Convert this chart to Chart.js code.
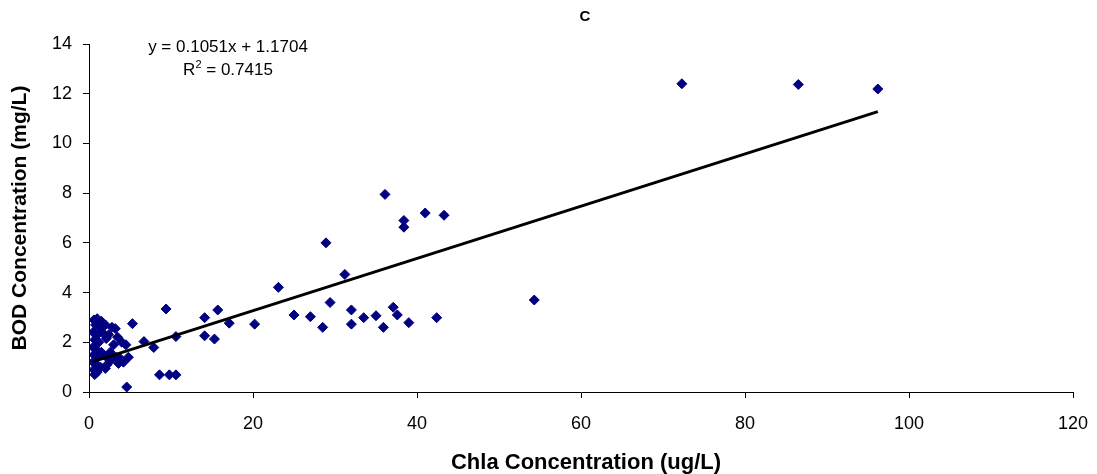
<!DOCTYPE html>
<html>
<head>
<meta charset="utf-8">
<script src="https://cdn.jsdelivr.net/npm/chart.js@4"></script>
<style>
    html, body { margin: 0; padding: 0; background: #fff; }
    #wrap { width: 1097px; height: 474px; }
</style>
</head>
<body>
<div id="wrap"><canvas id="chart" width="1097" height="474"></canvas></div>
<script>
// ============================================================
// Chla vs BOD scatter (panel C)
// ============================================================
const chlaValues = [
    0.6, 1.0, 1.5, 0.8, 1.3, 2.0, 2.8, 3.2, 0.5, 1.0, 1.6, 2.4, 2.1, 3.5, 4.0, 0.7, 1.2,
    0.5, 0.9, 1.5, 2.6, 3.0, 4.5, 0.6, 1.1, 2.0, 3.3, 2.7, 3.8, 4.2, 4.8, 0.5, 0.9, 1.4,
    2.2, 3.6, 0.6, 1.0, 0.7, 2.0, 4.6, 5.3,
    6.7, 7.9, 9.4, 10.6, 8.6, 9.8, 10.6,
    14.1, 15.7, 17.1, 14.1, 15.3, 20.2, 23.1, 25.0, 27.0, 28.5, 28.9, 29.4, 31.2, 32.0,
    32.0, 33.5, 35.0, 35.9, 37.1, 37.6, 39.0, 42.4, 38.4, 38.4, 36.1, 41.0, 43.3, 54.3,
    72.3, 86.5, 96.2
];
const bodValues = [
    2.9, 2.95, 2.85, 2.7, 2.6, 2.7, 2.6, 2.55, 2.4, 2.3, 2.4, 2.3, 2.15, 2.2, 2.0, 2.1, 2.0,
    1.8, 1.7, 1.6, 1.6, 1.9, 1.9, 1.5, 1.4, 1.45, 1.4, 1.3, 1.35, 1.2, 1.4, 1.2, 1.1, 1.0,
    1.1, 1.15, 0.9, 0.8, 0.7, 0.95, 0.2, 2.75,
    2.03, 1.79, 3.34, 2.23, 0.69, 0.69, 0.69,
    2.99, 3.3, 2.77, 2.26, 2.13, 2.73, 4.21, 3.1, 3.03, 2.6, 6.0, 3.6, 4.73, 3.3,
    2.73, 2.99, 3.07, 2.6, 3.41, 3.1, 2.79, 2.99, 6.63, 6.9, 7.95, 7.2, 7.11, 3.7,
    12.4, 12.37, 12.19
];

// Linear trendline as printed on the chart
const trendSlope = 0.1051;
const trendIntercept = 1.1704;
const trendText = ['y = 0.1051x + 1.1704', 'R', '2', ' = 0.7415'];

const xTicks = [0, 20, 40, 60, 80, 100, 120];
const yTicks = [0, 2, 4, 6, 8, 10, 12, 14];

const chartTitle = 'C';
const xTitle = 'Chla Concentration (ug/L)';
const yTitle = 'BOD Concentration (mg/L)';

const points = chlaValues.map((x, i) => ({ x, y: bodValues[i] }));
const xMin = Math.min(...chlaValues);
const xMax = Math.max(...chlaValues);
const trendPoints = [xMin, xMax].map(x => ({ x, y: trendSlope * x + trendIntercept }));

const FONT = "'Liberation Sans', Arial, sans-serif";

// Title, axis titles and equation labels
const labelPlugin = {
    id: 'labels',
    afterDraw(chart) {
        const { ctx, chartArea } = chart;
        const midY = (chartArea.top + chartArea.bottom) / 2;
        ctx.save();
        ctx.fillStyle = '#000';
        ctx.textBaseline = 'middle';
        ctx.textAlign = 'center';
        ctx.font = `bold 15px ${FONT}`;
        ctx.fillText(chartTitle, 585, 17);

        ctx.font = `bold 22px ${FONT}`;
        ctx.fillText(xTitle, 586, 463);

        ctx.save();
        ctx.translate(20, midY);
        ctx.rotate(-Math.PI / 2);
        ctx.font = `bold 21px ${FONT}`;
        ctx.fillText(yTitle, 0, 0);
        ctx.restore();

        ctx.font = `17px ${FONT}`;
        ctx.fillText(trendText[0], 228, 47);
        // R² line
        const base = trendText[1];
        const rest = trendText[3];
        const wBase = ctx.measureText(base).width;
        const wRest = ctx.measureText(rest).width;
        ctx.font = `11px ${FONT}`;
        const wSup = ctx.measureText(trendText[2]).width;
        const x0 = 228 - (wBase + wSup + wRest) / 2;
        ctx.textAlign = 'left';
        ctx.font = `17px ${FONT}`;
        ctx.fillText(base, x0, 70);
        ctx.font = `11px ${FONT}`;
        ctx.fillText(trendText[2], x0 + wBase, 65);
        ctx.font = `17px ${FONT}`;
        ctx.fillText(rest, x0 + wBase + wSup, 70);
        ctx.restore();
    }
};

new Chart(document.getElementById('chart'), {
    type: 'scatter',
    data: {
        datasets: [
            {
                label: 'BOD',
                data: points,
                pointStyle: 'rectRot',
                pointRadius: 5,
                pointBackgroundColor: '#000080',
                pointBorderColor: '#000080',
                pointBorderWidth: 1,
                order: 2,
            },
            {
                label: 'Trend',
                type: 'line',
                data: trendPoints,
                borderColor: '#000',
                borderWidth: 3,
                pointRadius: 0,
                fill: false,
                order: 1,
            }
        ]
    },
    options: {
        responsive: false,
        animation: false,
        layout: { padding: { left: 0, right: 24, top: 44, bottom: 0 } },
        plugins: { legend: { display: false }, tooltip: { enabled: false } },
        scales: {
            x: {
                type: 'linear',
                min: 0, max: 120,
                afterBuildTicks: (scale) => { scale.ticks = xTicks.map(v => ({ value: v })); },
                afterFit: (scale) => {
                    scale.height = 82;
                    scale.paddingLeft = 0;
                    scale.paddingRight = 0;
                },
                ticks: { color: '#000', font: { family: FONT, size: 18 }, padding: 15, maxRotation: 0 },
                grid: { display: true, drawOnChartArea: false, drawTicks: true, tickLength: 6, color: '#000', lineWidth: 1 },
                border: { color: '#000', width: 1 },
            },
            y: {
                type: 'linear',
                min: 0, max: 14,
                afterBuildTicks: (scale) => { scale.ticks = yTicks.map(v => ({ value: v })); },
                afterFit: (scale) => {
                    scale.width = 89;
                    scale.paddingTop = 0;
                    scale.paddingBottom = 0;
                },
                ticks: { color: '#000', font: { family: FONT, size: 18 }, padding: 11 },
                grid: { display: true, drawOnChartArea: false, drawTicks: true, tickLength: 6, color: '#000', lineWidth: 1 },
                border: { color: '#000', width: 1 },
            }
        }
    },
    plugins: [labelPlugin]
});
</script>
</body>
</html>
